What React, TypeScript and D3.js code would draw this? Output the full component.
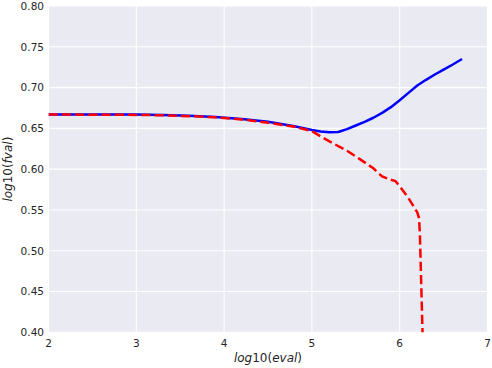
import * as d3 from "d3";

// blue: solid curve
const blueX = [2, 2.5, 3, 3.3, 3.6, 3.9, 4.2, 4.5, 4.8, 5.0, 5.1, 5.2, 5.3, 5.4, 5.5, 5.6, 5.7, 5.8, 5.9, 6.0, 6.1, 6.2, 6.3, 6.4, 6.5, 6.6, 6.71];
const blueY = [0.667, 0.667, 0.667, 0.6665, 0.6655, 0.664, 0.6615, 0.658, 0.6525, 0.648, 0.6462, 0.6452, 0.6455, 0.649, 0.6535, 0.658, 0.663, 0.669, 0.676, 0.6845, 0.6935, 0.7025, 0.7095, 0.716, 0.722, 0.728, 0.735];

// red: dashed curve
const redX = [2, 2.5, 3, 3.3, 3.6, 3.9, 4.2, 4.5, 4.8, 5.0, 5.2, 5.4, 5.55, 5.7, 5.8, 5.9, 5.95, 6.0, 6.1, 6.2, 6.22, 6.23, 6.24, 6.26, 6.27];
const redY = [0.667, 0.6668, 0.6665, 0.666, 0.665, 0.6635, 0.661, 0.657, 0.652, 0.6465, 0.634, 0.6225, 0.612, 0.601, 0.591, 0.587, 0.5855, 0.579, 0.5645, 0.547, 0.54, 0.52, 0.48, 0.40, 0.37];

const xTicks = [2, 3, 4, 5, 6, 7];
const yTicks = [0.4, 0.45, 0.5, 0.55, 0.6, 0.65, 0.7, 0.75, 0.8];

const width = 492;
const height = 368;
const margin = { top: 6, right: 4.5, bottom: 35.7, left: 48.5 };
const innerW = width - margin.left - margin.right;
const innerH = height - margin.top - margin.bottom;

const font = "'DejaVu Sans', sans-serif";
const textColor = "#262626";

export default function App() {
  const x = d3.scaleLinear().domain([2, 7]).range([0, innerW]);
  const y = d3.scaleLinear().domain([0.4, 0.8]).range([innerH, 0]);

  const makePath = (xs: number[], ys: number[]) =>
    d3
      .line<number>()
      .x((d) => x(d))
      .y((_, i) => y(ys[i]))(xs) ?? "";

  return (
    <svg
      width={width}
      height={height}
      style={{ position: "absolute", left: 0, top: 0, background: "#fff" }}
      fontFamily={font}
    >
      <defs>
        <clipPath id="plot-clip">
          <rect width={innerW} height={innerH} />
        </clipPath>
      </defs>
      <g transform={`translate(${margin.left},${margin.top})`}>
        <rect width={innerW} height={innerH} fill="#EAEAF2" />
        {xTicks.map((t) => (
          <line key={`gx${t}`} x1={x(t)} x2={x(t)} y1={0} y2={innerH} stroke="#fff" strokeWidth={1.1} />
        ))}
        {yTicks.map((t) => (
          <line key={`gy${t}`} x1={0} x2={innerW} y1={y(t)} y2={y(t)} stroke="#fff" strokeWidth={1.1} />
        ))}
        <g clipPath="url(#plot-clip)">
          <path d={makePath(blueX, blueY)} fill="none" stroke="#0000ff" strokeWidth={2.5} strokeLinejoin="round" />
          <path
            d={makePath(redX, redY)}
            fill="none"
            stroke="#ff0000"
            strokeWidth={2.5}
            strokeDasharray="9.25 4"
          />
        </g>
        {xTicks.map((t) => (
          <text key={`tx${t}`} x={x(t)} y={innerH + 14.5} textAnchor="middle" fontSize={10.5} fill={textColor}>
            {t}
          </text>
        ))}
        {yTicks.map((t) => (
          <text
            key={`ty${t}`}
            x={-4.5}
            y={y(t)}
            dy="0.36em"
            textAnchor="end"
            fontSize={10.5}
            fill={textColor}
          >
            {t.toFixed(2)}
          </text>
        ))}
        <text x={innerW / 2} y={innerH + 29.5} textAnchor="middle" fontSize={12} fill={textColor}>
          <tspan fontStyle="italic">log</tspan>
          <tspan>10(</tspan>
          <tspan fontStyle="italic">eval</tspan>
          <tspan>)</tspan>
        </text>
        <text
          transform={`translate(${-36.5},${innerH / 2}) rotate(-90)`}
          textAnchor="middle"
          fontSize={12}
          fill={textColor}
        >
          <tspan fontStyle="italic">log</tspan>
          <tspan>10(</tspan>
          <tspan fontStyle="italic">fval</tspan>
          <tspan>)</tspan>
        </text>
      </g>
    </svg>
  );
}
